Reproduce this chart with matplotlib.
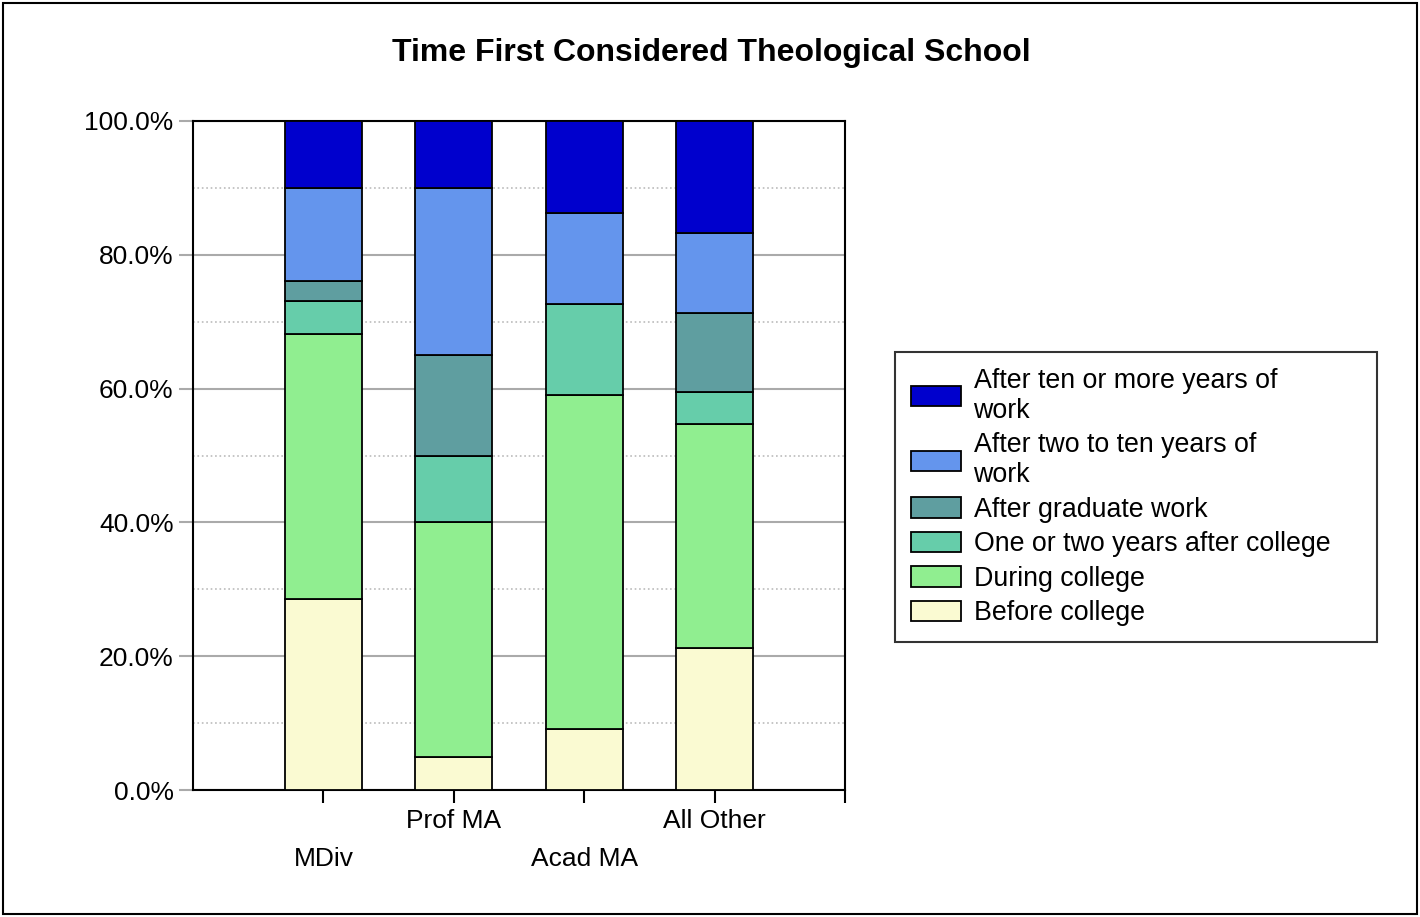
import numpy as np
import matplotlib.pyplot as plt
from matplotlib.patches import Rectangle
from matplotlib.ticker import MultipleLocator, FuncFormatter

plt.rcParams['font.family'] = ['Liberation Sans', 'DejaVu Sans']

# Percent of students in each program, by when they first considered theological school
programs = ['MDiv', 'Prof MA', 'Acad MA', 'All Other']
before_college = [28.6, 5.0, 9.1, 21.3]
during_college = [39.6, 35.0, 50.0, 33.4]
after_college_1_2 = [4.9, 10.0, 13.6, 4.8]
after_graduate = [3.0, 15.0, 0.0, 11.8]
after_work_2_10 = [13.9, 25.0, 13.6, 11.9]
after_work_10_plus = [10.0, 10.0, 13.7, 16.8]

series = [
    ('Before college', before_college, '#FAFAD2'),
    ('During college', during_college, '#90EE90'),
    ('One or two years after college', after_college_1_2, '#66CDAA'),
    ('After graduate work', after_graduate, '#5F9EA0'),
    ('After two to ten years of\nwork', after_work_2_10, '#6495ED'),
    ('After ten or more years of\nwork', after_work_10_plus, '#0000CD'),
]

fig = plt.figure(figsize=(14.2, 9.17), dpi=100)
ax = fig.add_axes([193/1420, 1 - 790/917, (845 - 193)/1420, (790 - 121)/917])

x = np.arange(len(programs))
bottom = np.zeros(len(programs))
handles = []
for name, vals, color in series:
    vals = np.array(vals)
    b = ax.bar(x, vals, 0.59, bottom=bottom, color=color, edgecolor='black',
               linewidth=1.3, label=name, zorder=3)
    handles.append(b)
    bottom += vals

ax.set_xlim(-1, 4)
ax.set_ylim(0, 100)

# gridlines: solid every 20%, dotted in between
ax.yaxis.set_major_locator(MultipleLocator(20))
ax.yaxis.set_minor_locator(MultipleLocator(10))
ax.yaxis.set_major_formatter(FuncFormatter(lambda v, p: f'{v:.1f}%'))
ax.grid(axis='y', which='major', color='#aaaaaa', linewidth=1.5, zorder=0)
ax.grid(axis='y', which='minor', color='#bbbbbb', linewidth=1.2, linestyle=':', zorder=0)
ax.tick_params(axis='y', which='major', length=10, width=1.5, color='#aaaaaa',
               labelsize=19, pad=4)
ax.tick_params(axis='y', which='minor', length=0)

ax.set_xticks(list(x) + [4])
ax.set_xticklabels(programs + [''])
ax.tick_params(axis='x', length=9, width=1.5, labelsize=19)
for i, t in enumerate(ax.xaxis.get_major_ticks()[:len(programs)]):
    t.set_pad(32 if i % 2 == 0 else 5)

for s in ax.spines.values():
    s.set_linewidth(1.5)
    s.set_color('black')

fig.suptitle('Time First Considered Theological School', x=711/1420, y=1 - 53/917,
             va='center', fontsize=23, fontweight='bold')

leg = fig.legend(handles[::-1], [s[0] for s in series][::-1],
                 loc='upper left', bbox_to_anchor=(895/1420, 1 - 352/917 - 0.01, (1377 - 895)/1420, 0.01),
                 mode='expand', fontsize=19.3, frameon=True, fancybox=False,
                 edgecolor='black', handlelength=1.9, handleheight=0.8,
                 handletextpad=0.45, labelspacing=0.32, borderpad=0.58,
                 borderaxespad=0)
leg.get_frame().set_linewidth(1.5)
leg._legend_box.sep = 0

# outer border around the whole figure
fig.patches.append(Rectangle((3/1420, 3/917), 1414/1420, 911/917, transform=fig.transFigure,
                             fill=False, edgecolor='black', linewidth=1.5))

fig.savefig('out.png', dpi=100)
